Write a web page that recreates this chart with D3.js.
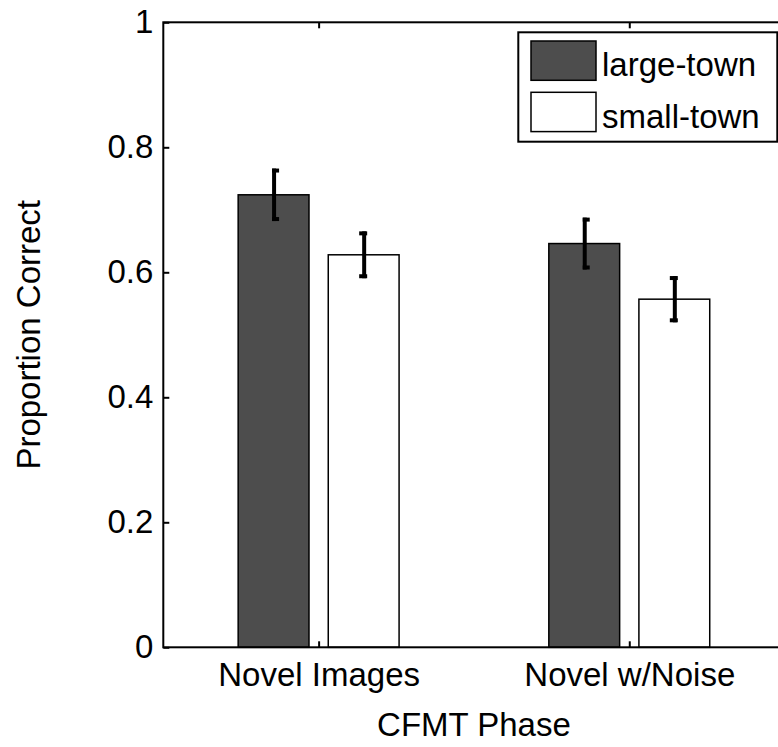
<!DOCTYPE html>
<html>
<head>
<meta charset="utf-8">
<script src="https://cdn.jsdelivr.net/npm/d3@7"></script>
<style>
  html, body { margin: 0; padding: 0; background: #fff; }
  svg { display: block; }
  text { font-family: "Liberation Sans", Arial, Helvetica, sans-serif; fill: #000; }
</style>
</head>
<body>
<svg id="chart" width="778" height="747"></svg>
<script>
// ---- data ----
const categories = ["Novel Images", "Novel w/Noise"];
const seriesNames = ["large-town", "small-town"];
const largeTown = [0.724, 0.646];
const smallTown = [0.628, 0.557];
const largeTownErr = [0.042, 0.0415];
const smallTownErr = [0.0375, 0.037];
const yTicks = [0, 0.2, 0.4, 0.6, 0.8, 1];
const xLabel = "CFMT Phase";
const yLabel = "Proportion Correct";

// ---- layout ----
const svg = d3.select("#chart");
const L = 163.3, R = 784.6, T = 22.3, B = 647.3;
const x = d3.scaleLinear().domain([0.5, 2.5]).range([L, R]);
const y = d3.scaleLinear().domain([0, 1]).range([B, T]);
const fontSize = 33;
const barW = 0.228, offset = 0.145;
const fills = ["#4d4d4d", "#ffffff"];

const series = [
  { name: seriesNames[0], values: largeTown, errs: largeTownErr, off: -offset, fill: fills[0], capL: -2, capR: 5 },
  { name: seriesNames[1], values: smallTown, errs: smallTownErr, off: offset, fill: fills[1], capL: -5, capR: 3 }
];

// bars
series.forEach(s => {
  svg.append("g").selectAll("rect").data(s.values).join("rect")
    .attr("x", (d, i) => x(i + 1 + s.off - barW / 2))
    .attr("width", x(1 + barW) - x(1))
    .attr("y", d => y(d))
    .attr("height", d => y(0) - y(d))
    .attr("fill", s.fill)
    .attr("stroke", "#000")
    .attr("stroke-width", 1.5);
});

// error bars
series.forEach(s => {
  const g = svg.append("g").attr("stroke", "#000").attr("stroke-width", 4);
  s.values.forEach((v, i) => {
    const cx = x(i + 1 + s.off) + 0.5;
    const yt = y(v + s.errs[i]), yb = y(v - s.errs[i]);
    g.append("line").attr("x1", cx).attr("x2", cx).attr("y1", yt).attr("y2", yb);
    g.append("line").attr("x1", cx + s.capL).attr("x2", cx + s.capR).attr("y1", yt + 2).attr("y2", yt + 2);
    g.append("line").attr("x1", cx + s.capL).attr("x2", cx + s.capR).attr("y1", yb - 2).attr("y2", yb - 2);
  });
});

// axes
const tickLen = 6;
const fmt = d => String(d);

const gl = svg.append("g").attr("transform", `translate(${L},0)`)
  .call(d3.axisLeft(y).tickValues(yTicks).tickFormat(fmt).tickSize(-tickLen).tickPadding(10));
const gr = svg.append("g").attr("transform", `translate(${R},0)`)
  .call(d3.axisRight(y).tickValues(yTicks).tickFormat("").tickSize(-tickLen));
const gb = svg.append("g").attr("transform", `translate(0,${B})`)
  .call(d3.axisBottom(x).tickValues([1, 2]).tickFormat((d, i) => categories[i]).tickSize(-tickLen).tickPadding(0));
const gt = svg.append("g").attr("transform", `translate(0,${T})`)
  .call(d3.axisTop(x).tickValues([1, 2]).tickFormat("").tickSize(-tickLen));

[gl, gr, gb, gt].forEach(g => {
  g.select(".domain").remove();
  g.selectAll(".tick line").attr("stroke", "#000").attr("stroke-width", 2);
  g.selectAll("text").attr("font-size", fontSize).attr("fill", "#000")
    .style("font-family", '"Liberation Sans", Arial, sans-serif');
});
gb.selectAll("text").attr("y", 39).attr("dy", null);

// axis box
svg.append("rect")
  .attr("x", L).attr("y", T).attr("width", R - L).attr("height", B - T)
  .attr("fill", "none").attr("stroke", "#000").attr("stroke-width", 2);

// axis labels
svg.append("text")
  .attr("x", (x(1) + x(2)) / 2).attr("y", 736)
  .attr("text-anchor", "middle").attr("font-size", fontSize)
  .text(xLabel);
svg.append("text")
  .attr("transform", `translate(40,${(T + B) / 2}) rotate(-90)`)
  .attr("text-anchor", "middle").attr("font-size", fontSize)
  .text(yLabel);

// legend
const lg = svg.append("g");
lg.append("rect").attr("x", 518.3).attr("y", 32.3).attr("width", 259).attr("height", 109.4)
  .attr("fill", "#fff").attr("stroke", "#000").attr("stroke-width", 2);
const legY = [41, 92.3];
const legBase = [76, 128];
series.forEach((s, i) => {
  lg.append("rect").attr("x", 531).attr("y", legY[i]).attr("width", 65).attr("height", 39.3)
    .attr("fill", s.fill).attr("stroke", "#000").attr("stroke-width", 1.5);
  lg.append("text").attr("x", 602).attr("y", legBase[i]).attr("font-size", fontSize).text(s.name);
});
</script>
</body>
</html>
